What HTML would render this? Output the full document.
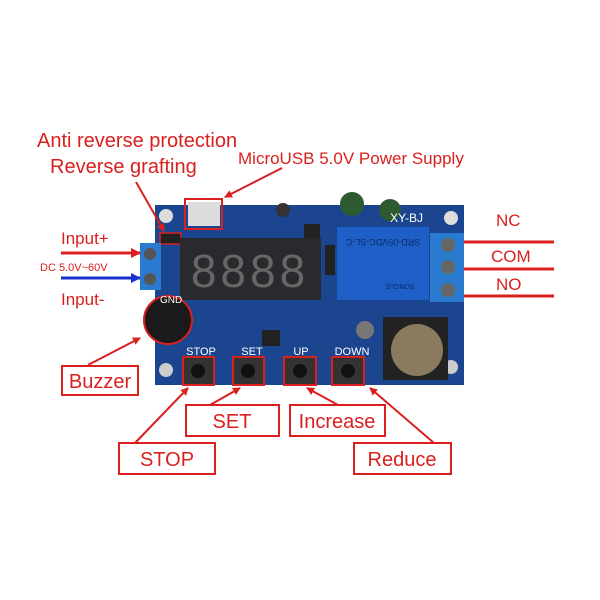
<!DOCTYPE html>
<html><head><style>body{margin:0;background:#fff}svg{display:block}</style></head>
<body>
<svg width="600" height="600" viewBox="0 0 600 600" xmlns="http://www.w3.org/2000/svg" font-family="Liberation Sans, sans-serif">
<defs>
<marker id="ar" markerWidth="8" markerHeight="8" refX="7" refY="4" orient="auto" markerUnits="userSpaceOnUse"><path d="M0,0 L8,4 L0,8 z" fill="#d9201f"/></marker>
<marker id="ab" markerWidth="10" markerHeight="10" refX="9" refY="5" orient="auto" markerUnits="userSpaceOnUse"><path d="M0,0 L10,5 L0,10 z" fill="#1a2fd0"/></marker>
<marker id="ar2" markerWidth="10" markerHeight="10" refX="9" refY="5" orient="auto" markerUnits="userSpaceOnUse"><path d="M0,0 L10,5 L0,10 z" fill="#d9201f"/></marker>
</defs>
<!-- board -->
<rect x="155" y="205" width="309" height="180" fill="#1c4590"/>
<circle cx="166" cy="216" r="7" fill="#ddd"/><circle cx="451" cy="218" r="7" fill="#ddd"/>
<circle cx="166" cy="370" r="7" fill="#ccc"/><circle cx="451" cy="367" r="7" fill="#ccc"/>
<!-- capacitors -->
<circle cx="352" cy="204" r="12" fill="#2e5a30"/><circle cx="390" cy="210" r="11" fill="#2e5a30"/>
<circle cx="283" cy="210" r="7" fill="#333"/>
<!-- usb -->
<rect x="188" y="202" width="32" height="24" fill="#ddd"/>
<rect x="185" y="199" width="37" height="30" fill="none" stroke="#d9201f" stroke-width="2"/>
<rect x="160" y="233" width="21" height="11" fill="#222" stroke="#d9201f" stroke-width="1.5"/>
<!-- display -->
<rect x="180" y="238" width="141" height="62" fill="#2a2a2e"/>
<text x="250" y="287" font-size="46" fill="#666" text-anchor="middle" letter-spacing="4">8888</text>
<rect x="325" y="245" width="10" height="30" fill="#222"/>
<!-- relay -->
<rect x="337" y="227" width="92" height="73" fill="#1e5fc7"/>
<text x="383" y="245" font-size="9" fill="#0b2a66" text-anchor="middle" transform="rotate(180 383 242)">SRD-05VDC-SL-C</text>
<text x="400" y="290" font-size="7" fill="#0b2a66" text-anchor="middle" transform="rotate(180 400 287)">SONGLE</text>
<text x="423" y="222" font-size="12" fill="#fff" text-anchor="end">XY-BJ</text>
<!-- terminals -->
<rect x="430" y="233" width="34" height="69" fill="#2a7bd0"/>
<circle cx="448" cy="245" r="7" fill="#666"/><circle cx="448" cy="267" r="7" fill="#666"/><circle cx="448" cy="290" r="7" fill="#666"/>
<rect x="140" y="243" width="21" height="47" fill="#2a7bd0"/>
<circle cx="150" cy="254" r="6" fill="#555"/><circle cx="150" cy="279" r="6" fill="#555"/>
<!-- buzzer -->
<circle cx="168" cy="320" r="24" fill="#1a1a1a" stroke="#d9201f" stroke-width="2"/>
<text x="160" y="303" font-size="10" fill="#fff">GND</text>
<!-- coin cell -->
<rect x="383" y="317" width="65" height="63" fill="#222"/>
<circle cx="417" cy="350" r="26" fill="#8a7a60"/>
<circle cx="365" cy="330" r="9" fill="#777"/>
<!-- ICs small -->
<rect x="262" y="330" width="18" height="16" fill="#222"/>
<rect x="304" y="224" width="16" height="14" fill="#222"/>
<!-- buttons -->
<g font-size="11" fill="#fff" text-anchor="middle">
<text x="201" y="355">STOP</text><text x="252" y="355">SET</text><text x="301" y="355">UP</text><text x="352" y="355">DOWN</text></g>
<g fill="#333" stroke="#d9201f" stroke-width="2">
<rect x="183" y="357" width="31" height="28"/><rect x="233" y="357" width="31" height="28"/>
<rect x="284" y="357" width="32" height="28"/><rect x="332" y="357" width="32" height="28"/></g>
<g fill="#111"><circle cx="198" cy="371" r="7"/><circle cx="248" cy="371" r="7"/><circle cx="300" cy="371" r="7"/><circle cx="348" cy="371" r="7"/></g>
<!-- labels -->
<g fill="#d9201f">
<text x="37" y="147" font-size="20">Anti reverse protection</text>
<text x="50" y="173" font-size="20">Reverse grafting</text>
<text x="238" y="164" font-size="17">MicroUSB 5.0V Power Supply</text>
<text x="61" y="244" font-size="17">Input+</text>
<text x="61" y="305" font-size="17">Input-</text>
<text x="496" y="226" font-size="17">NC</text>
<text x="491" y="262" font-size="17">COM</text>
<text x="496" y="290" font-size="17">NO</text>
</g>
<text x="40" y="271" font-size="11" fill="#d9201f">DC 5.0V~60V</text>
<g stroke="#d9201f" stroke-width="3"><line x1="464" y1="242" x2="554" y2="242"/><line x1="464" y1="269" x2="554" y2="269"/><line x1="464" y1="296" x2="554" y2="296"/></g>
<line x1="61" y1="253" x2="140" y2="253" stroke="#d9201f" stroke-width="3" marker-end="url(#ar2)"/>
<line x1="61" y1="278" x2="140" y2="278" stroke="#1a2fd0" stroke-width="3" marker-end="url(#ab)"/>
<g stroke="#d9201f" stroke-width="2" fill="none">
<line x1="136" y1="182" x2="164" y2="231" marker-end="url(#ar)"/>
<line x1="282" y1="168" x2="225" y2="197" marker-end="url(#ar)"/>
<line x1="88" y1="365" x2="140" y2="338" marker-end="url(#ar)"/>
<line x1="135" y1="443" x2="188" y2="388" marker-end="url(#ar)"/>
<line x1="210" y1="405" x2="240" y2="388" marker-end="url(#ar)"/>
<line x1="338" y1="405" x2="307" y2="388" marker-end="url(#ar)"/>
<line x1="434" y1="443" x2="370" y2="388" marker-end="url(#ar)"/>
<rect x="62" y="366" width="76" height="29"/>
<rect x="186" y="405" width="93" height="31"/>
<rect x="290" y="405" width="95" height="31"/>
<rect x="119" y="443" width="96" height="31"/>
<rect x="354" y="443" width="97" height="31"/>
</g>
<g fill="#d9201f" font-size="20" text-anchor="middle">
<text x="100" y="388">Buzzer</text>
<text x="232" y="428">SET</text>
<text x="337" y="428">Increase</text>
<text x="167" y="466">STOP</text>
<text x="402" y="466">Reduce</text>
</g>
</svg>
</body></html>
